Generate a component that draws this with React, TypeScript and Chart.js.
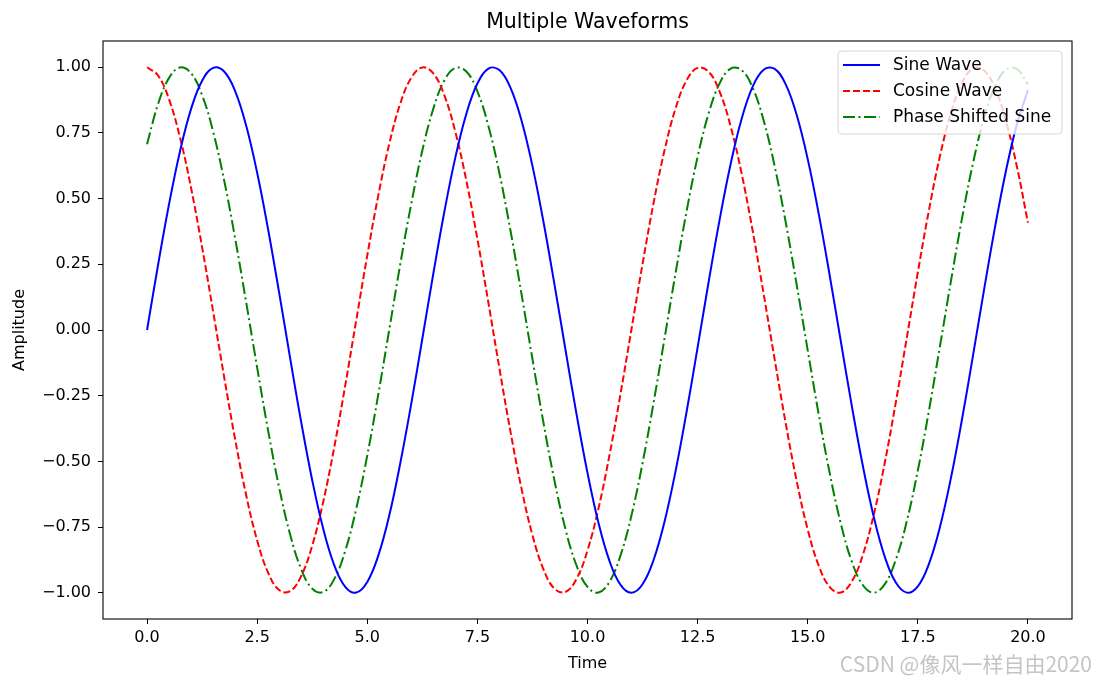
import React, { useEffect, useRef } from "react";
import { Chart, registerables } from "chart.js";

Chart.register(...registerables);

const timeValues = [
  0, 0.25, 0.5, 0.75, 1, 1.25, 1.5, 1.75, 2, 2.25, 2.5, 2.75, 3, 3.25, 3.5, 3.75,
  4, 4.25, 4.5, 4.75, 5, 5.25, 5.5, 5.75, 6, 6.25, 6.5, 6.75, 7, 7.25, 7.5, 7.75,
  8, 8.25, 8.5, 8.75, 9, 9.25, 9.5, 9.75, 10, 10.25, 10.5, 10.75, 11, 11.25, 11.5, 11.75,
  12, 12.25, 12.5, 12.75, 13, 13.25, 13.5, 13.75, 14, 14.25, 14.5, 14.75, 15, 15.25, 15.5, 15.75,
  16, 16.25, 16.5, 16.75, 17, 17.25, 17.5, 17.75, 18, 18.25, 18.5, 18.75, 19, 19.25, 19.5, 19.75, 20,
];

const sineWave = [
  0, 0.2474, 0.4794, 0.6816, 0.8415, 0.949, 0.9975, 0.984, 0.9093, 0.7781, 0.5985, 0.3817, 0.1411, -0.1082, -0.3508, -0.5716,
  -0.7568, -0.895, -0.9775, -0.9993, -0.9589, -0.8589, -0.7055, -0.5064, -0.2794, -0.0332, 0.2151, 0.45, 0.657, 0.8234, 0.938, 0.9946,
  0.9894, 0.9224, 0.7985, 0.6247, 0.4121, 0.1739, -0.0752, -0.3195, -0.544, -0.7347, -0.8797, -0.97, -1.0, -0.9678, -0.8755, -0.7287,
  -0.5366, -0.3111, -0.0663, 0.1826, 0.4202, 0.6316, 0.8038, 0.926, 0.9906, 0.9936, 0.9349, 0.818, 0.6503, 0.4421, 0.2065, -0.042,
  -0.2879, -0.5159, -0.7118, -0.8634, -0.9614, -0.9996, -0.9756, -0.891, -0.751, -0.5643, -0.3425, -0.0994, 0.1499, 0.3898, 0.6055, 0.7836, 0.9129,
];

const cosineWave = [
  1, 0.9689, 0.8776, 0.7317, 0.5403, 0.3153, 0.0707, -0.1782, -0.4161, -0.6282, -0.8011, -0.9243, -0.99, -0.9941, -0.9365, -0.8206,
  -0.6536, -0.4461, -0.2108, 0.0376, 0.2837, 0.5122, 0.7087, 0.8623, 0.9602, 0.9994, 0.9766, 0.893, 0.7539, 0.5679, 0.3466, 0.1038,
  -0.1455, -0.3857, -0.602, -0.7808, -0.9111, -0.9848, -0.9972, -0.9476, -0.8391, -0.6784, -0.4755, -0.2431, 0.0044, 0.2517, 0.4833, 0.6849,
  0.8439, 0.9504, 0.9978, 0.9832, 0.9074, 0.7753, 0.5949, 0.3776, 0.1367, -0.1126, -0.3549, -0.5752, -0.7597, -0.897, -0.9785, -0.9991,
  -0.9577, -0.8567, -0.7023, -0.5045, -0.2752, -0.0288, 0.2194, 0.454, 0.6603, 0.8256, 0.9395, 0.995, 0.9887, 0.9209, 0.7958, 0.6213, 0.4081,
];

const phaseShiftedSine = [
  0.7071, 0.8601, 0.9596, 0.9994, 0.9771, 0.894, 0.7553, 0.5698, 0.3487, 0.106, -0.1433, -0.3837, -0.6003, -0.7794, -0.9103, -0.9844,
  -0.9973, -0.9483, -0.8403, -0.68, -0.4774, -0.2452, 0.0023, 0.2517, 0.4814, 0.6832, 0.8427, 0.9497, 0.9977, 0.9838, 0.9083, 0.7767,
  0.5967, 0.3795, 0.1389, -0.1104, -0.3528, -0.5734, -0.7583, -0.896, -0.978, -0.9992, -0.9583, -0.8578, -0.704, -0.5064, -0.2773, -0.031,
  0.2173, 0.4521, 0.6587, 0.8244, 0.9388, 0.9948, 0.989, 0.9218, 0.7971, 0.623, 0.4101, 0.1717, -0.0774, -0.3217, -0.5459, -0.7362,
  -0.8808, -0.9706, -0.9999, -0.9673, -0.8744, -0.7272, -0.5347, -0.309, -0.0641, 0.1848, 0.4221, 0.6333, 0.8051, 0.9268, 0.9909, 0.9934, 0.9341,
];

const xTicks = [0, 2.5, 5, 7.5, 10, 12.5, 15, 17.5, 20];
const xTickLabels = ["0.0", "2.5", "5.0", "7.5", "10.0", "12.5", "15.0", "17.5", "20.0"];
const yTicks = [-1, -0.75, -0.5, -0.25, 0, 0.25, 0.5, 0.75, 1];
const yTickLabels = ["\u22121.00", "\u22120.75", "\u22120.50", "\u22120.25", "0.00", "0.25", "0.50", "0.75", "1.00"];

const seriesNames = ["Sine Wave", "Cosine Wave", "Phase Shifted Sine"];
const seriesColors = ["#0000ff", "#ff0000", "#008000"];
const seriesDashes: number[][] = [[], [7, 3], [12, 3.5, 2, 3.5]];

const FONT = "'DejaVu Sans', sans-serif";

const framePlugin = {
  id: "frameLegend",
  afterDatasetsDraw(chart: any) {
    const { ctx, chartArea } = chart;
    const { left, top, right, bottom } = chartArea;
    ctx.save();
    ctx.strokeStyle = "#000";
    ctx.lineWidth = 1.1;
    ctx.setLineDash([]);
    ctx.strokeRect(left, top, right - left, bottom - top);

    const bx = 838, by = 51, bw = 224, bh = 83, r = 4;
    ctx.beginPath();
    ctx.moveTo(bx + r, by);
    ctx.arcTo(bx + bw, by, bx + bw, by + bh, r);
    ctx.arcTo(bx + bw, by + bh, bx, by + bh, r);
    ctx.arcTo(bx, by + bh, bx, by, r);
    ctx.arcTo(bx, by, bx + bw, by, r);
    ctx.closePath();
    ctx.fillStyle = "rgba(255,255,255,0.8)";
    ctx.fill();
    ctx.strokeStyle = "#d6d6d6";
    ctx.lineWidth = 1;
    ctx.stroke();

    const rowY = [65, 91, 117];
    ctx.font = `17px ${FONT}`;
    ctx.textBaseline = "middle";
    ctx.textAlign = "left";
    seriesNames.forEach((name, i) => {
      ctx.beginPath();
      ctx.setLineDash(seriesDashes[i]);
      ctx.strokeStyle = seriesColors[i];
      ctx.lineWidth = 2;
      ctx.moveTo(843, rowY[i]);
      ctx.lineTo(880, rowY[i]);
      ctx.stroke();
      ctx.setLineDash([]);
      ctx.fillStyle = "#000";
      ctx.fillText(name, 893, rowY[i] + 1);
    });

    ctx.font = `21px 'Noto Sans CJK SC', ${FONT}`;
    ctx.fillStyle = "#c4c4c4";
    ctx.textAlign = "right";
    ctx.fillText("CSDN @像风一样自由2020", 1092, 664);
    ctx.restore();
  },
};

export default function App() {
  const ref = useRef<HTMLCanvasElement | null>(null);
  useEffect(() => {
    if (!ref.current) return;
    const datasets = [sineWave, cosineWave, phaseShiftedSine].map((vals, i) => ({
      label: seriesNames[i],
      data: vals.map((v, j) => ({ x: timeValues[j], y: v })),
      borderColor: seriesColors[i],
      backgroundColor: seriesColors[i],
      borderWidth: 2,
      borderDash: seriesDashes[i],
      pointRadius: 0,
      tension: 0.4,
      fill: false,
    }));
    const chart = new Chart(ref.current, {
      type: "line",
      data: { datasets },
      options: {
        animation: false,
        responsive: true,
        maintainAspectRatio: false,
        layout: { padding: { left: 0, right: 25, top: 0, bottom: 0 } },
        plugins: {
          legend: { display: false },
          tooltip: { enabled: false },
          title: {
            display: true,
            fullSize: false,
            text: "Multiple Waveforms",
            color: "#000",
            font: { family: FONT, size: 20.5, weight: "normal", lineHeight: 1.2 },
            padding: { top: 10, bottom: 6.4 },
          },
        },
        scales: {
          x: {
            type: "linear",
            min: -1,
            max: 21,
            afterBuildTicks: (s: any) => {
              s.ticks = xTicks.map((v) => ({ value: v }));
            },
            afterFit: (s: any) => {
              s.height = 61;
            },
            ticks: {
              color: "#000",
              font: { family: FONT, size: 16 },
              padding: 4,
              maxRotation: 0,
              autoSkip: false,
              callback: (v: any) => {
                const i = xTicks.indexOf(Number(v));
                return i >= 0 ? xTickLabels[i] : "";
              },
            },
            grid: { display: true, drawOnChartArea: false, drawTicks: true, tickLength: 5, color: "#000", tickColor: "#000" },
            border: { display: false },
            title: {
              display: true,
              text: "Time",
              color: "#000",
              font: { family: FONT, size: 16, lineHeight: 1.2 },
              padding: { top: 0, bottom: 7 },
            },
          },
          y: {
            type: "linear",
            min: -1.1,
            max: 1.1,
            afterBuildTicks: (s: any) => {
              s.ticks = yTicks.map((v) => ({ value: v }));
            },
            afterFit: (s: any) => {
              s.width = 103;
            },
            ticks: {
              color: "#000",
              font: { family: FONT, size: 16 },
              padding: 7,
              autoSkip: false,
              callback: (v: any) => {
                const i = yTicks.indexOf(Number(v));
                return i >= 0 ? yTickLabels[i] : "";
              },
            },
            grid: { display: true, drawOnChartArea: false, drawTicks: true, tickLength: 5, color: "#000", tickColor: "#000" },
            border: { display: false },
            title: {
              display: true,
              text: "Amplitude",
              color: "#000",
              font: { family: FONT, size: 16, lineHeight: 1.2 },
              padding: { top: 10, bottom: 0 },
            },
          },
        },
      },
      plugins: [framePlugin],
    } as any);
    return () => chart.destroy();
  }, []);
  return (
    <div style={{ position: "absolute", left: 0, top: 0, width: 1097, height: 680, background: "#fff" }}>
      <canvas ref={ref} />
    </div>
  );
}
